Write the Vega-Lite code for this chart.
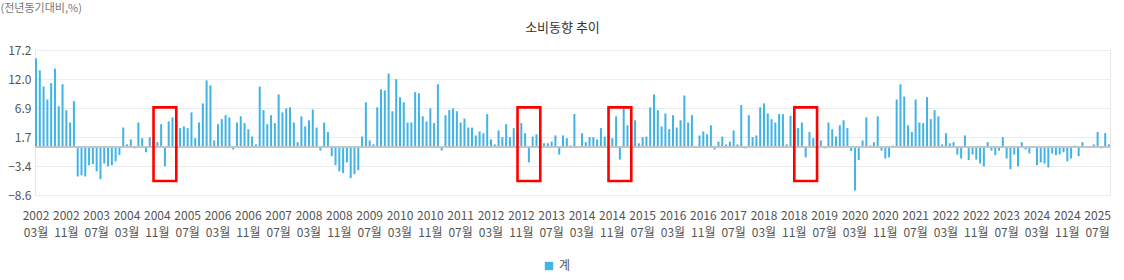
{
  "$schema": "https://vega.github.io/schema/vega-lite/v6.json",
  "width": 1075,
  "height": 145,
  "autosize": {"type": "none"},
  "padding": {"left": 35, "top": 50, "right": 14, "bottom": 85},
  "background": "white",
  "config": {
    "font": "Noto Sans CJK KR",
    "view": {"stroke": "#e6e6e6"},
    "axis": {"labelFont": "Noto Sans CJK KR", "titleFont": "Noto Sans CJK KR"},
    "axisY": {"labelOverlap": false}
  },
  "title": {"text": "소비동향 추이", "fontSize": 13, "fontWeight": "normal", "color": "#333333", "offset": 12, "anchor": "middle", "frame": "group", "dx": -10, "dy": 45},
  "datasets": {
    "cons": [
      {"m":"2002-03","v":15.7},{"m":"2002-04","v":13.6},{"m":"2002-05","v":10.7},{"m":"2002-06","v":8.4},{"m":"2002-07","v":11.3},{"m":"2002-08","v":13.9},{"m":"2002-09","v":7.2},{"m":"2002-10","v":11.1},{"m":"2002-11","v":6.5},{"m":"2002-12","v":4.3},
      {"m":"2003-01","v":8.1},{"m":"2003-02","v":-5.3},{"m":"2003-03","v":-5.1},{"m":"2003-04","v":-5.3},{"m":"2003-05","v":-3.3},{"m":"2003-06","v":-3.1},{"m":"2003-07","v":-4.4},{"m":"2003-08","v":-5.8},{"m":"2003-09","v":-3.0},{"m":"2003-10","v":-3.5},{"m":"2003-11","v":-3.3},{"m":"2003-12","v":-2.6},
      {"m":"2004-01","v":-1.5},{"m":"2004-02","v":3.4},{"m":"2004-03","v":0.4},{"m":"2004-04","v":1.3},{"m":"2004-05","v":-0.3},{"m":"2004-06","v":4.3},{"m":"2004-07","v":1.5},{"m":"2004-08","v":-1.0},{"m":"2004-09","v":1.7},{"m":"2004-10","v":1.5},{"m":"2004-11","v":0.8},{"m":"2004-12","v":4.0},
      {"m":"2005-01","v":-3.5},{"m":"2005-02","v":4.5},{"m":"2005-03","v":5.2},{"m":"2005-04","v":4.5},{"m":"2005-05","v":3.3},{"m":"2005-06","v":3.6},{"m":"2005-07","v":3.3},{"m":"2005-08","v":6.1},{"m":"2005-09","v":1.5},{"m":"2005-10","v":4.3},{"m":"2005-11","v":7.7},{"m":"2005-12","v":11.8},
      {"m":"2006-01","v":10.9},{"m":"2006-02","v":1.1},{"m":"2006-03","v":4.0},{"m":"2006-04","v":4.9},{"m":"2006-05","v":5.6},{"m":"2006-06","v":5.2},{"m":"2006-07","v":-0.5},{"m":"2006-08","v":4.3},{"m":"2006-09","v":5.4},{"m":"2006-10","v":4.2},{"m":"2006-11","v":3.1},{"m":"2006-12","v":1.8},
      {"m":"2007-01","v":0.4},{"m":"2007-02","v":10.7},{"m":"2007-03","v":6.5},{"m":"2007-04","v":4.0},{"m":"2007-05","v":5.6},{"m":"2007-06","v":4.2},{"m":"2007-07","v":9.3},{"m":"2007-08","v":6.1},{"m":"2007-09","v":6.8},{"m":"2007-10","v":7.0},{"m":"2007-11","v":4.3},{"m":"2007-12","v":0.8},
      {"m":"2008-01","v":5.4},{"m":"2008-02","v":3.6},{"m":"2008-03","v":4.7},{"m":"2008-04","v":6.6},{"m":"2008-05","v":3.4},{"m":"2008-06","v":-0.7},{"m":"2008-07","v":4.3},{"m":"2008-08","v":2.6},{"m":"2008-09","v":-1.7},{"m":"2008-10","v":-3.3},{"m":"2008-11","v":-4.4},{"m":"2008-12","v":-4.7},
      {"m":"2009-01","v":-2.8},{"m":"2009-02","v":-5.6},{"m":"2009-03","v":-4.9},{"m":"2009-04","v":-4.2},{"m":"2009-05","v":1.8},{"m":"2009-06","v":7.9},{"m":"2009-07","v":1.1},{"m":"2009-08","v":0.4},{"m":"2009-09","v":7.0},{"m":"2009-10","v":10.2},{"m":"2009-11","v":10.0},{"m":"2009-12","v":13.0},
      {"m":"2010-01","v":6.3},{"m":"2010-02","v":12.0},{"m":"2010-03","v":8.8},{"m":"2010-04","v":7.9},{"m":"2010-05","v":4.3},{"m":"2010-06","v":4.3},{"m":"2010-07","v":9.7},{"m":"2010-08","v":9.5},{"m":"2010-09","v":5.4},{"m":"2010-10","v":4.5},{"m":"2010-11","v":6.8},{"m":"2010-12","v":4.2},
      {"m":"2011-01","v":11.1},{"m":"2011-02","v":-0.7},{"m":"2011-03","v":5.6},{"m":"2011-04","v":6.5},{"m":"2011-05","v":6.8},{"m":"2011-06","v":6.3},{"m":"2011-07","v":4.3},{"m":"2011-08","v":5.0},{"m":"2011-09","v":3.4},{"m":"2011-10","v":3.4},{"m":"2011-11","v":2.0},{"m":"2011-12","v":2.7},
      {"m":"2012-01","v":2.4},{"m":"2012-02","v":5.8},{"m":"2012-03","v":1.3},{"m":"2012-04","v":0.4},{"m":"2012-05","v":2.9},{"m":"2012-06","v":1.7},{"m":"2012-07","v":4.0},{"m":"2012-08","v":1.7},{"m":"2012-09","v":3.3},{"m":"2012-10","v":2.5},{"m":"2012-11","v":4.2},{"m":"2012-12","v":2.4},
      {"m":"2013-01","v":-2.8},{"m":"2013-02","v":1.8},{"m":"2013-03","v":2.2},{"m":"2013-04","v":1.5},{"m":"2013-05","v":0.6},{"m":"2013-06","v":0.6},{"m":"2013-07","v":0.9},{"m":"2013-08","v":2.0},{"m":"2013-09","v":-1.4},{"m":"2013-10","v":2.0},{"m":"2013-11","v":1.5},{"m":"2013-12","v":0.2},
      {"m":"2014-01","v":5.8},{"m":"2014-02","v":0.1},{"m":"2014-03","v":2.4},{"m":"2014-04","v":0.8},{"m":"2014-05","v":1.7},{"m":"2014-06","v":1.7},{"m":"2014-07","v":1.3},{"m":"2014-08","v":3.3},{"m":"2014-09","v":1.8},{"m":"2014-10","v":0.2},{"m":"2014-11","v":1.5},{"m":"2014-12","v":5.4},
      {"m":"2015-01","v":-2.3},{"m":"2015-02","v":6.8},{"m":"2015-03","v":3.8},{"m":"2015-04","v":4.0},{"m":"2015-05","v":4.7},{"m":"2015-06","v":0.6},{"m":"2015-07","v":1.7},{"m":"2015-08","v":1.8},{"m":"2015-09","v":7.0},{"m":"2015-10","v":9.3},{"m":"2015-11","v":6.5},{"m":"2015-12","v":3.6},
      {"m":"2016-01","v":5.9},{"m":"2016-02","v":3.1},{"m":"2016-03","v":5.6},{"m":"2016-04","v":3.4},{"m":"2016-05","v":4.7},{"m":"2016-06","v":9.1},{"m":"2016-07","v":4.3},{"m":"2016-08","v":5.6},{"m":"2016-09","v":0.05},{"m":"2016-10","v":2.0},{"m":"2016-11","v":2.7},{"m":"2016-12","v":2.2},
      {"m":"2017-01","v":3.8},{"m":"2017-02","v":-0.5},{"m":"2017-03","v":0.9},{"m":"2017-04","v":1.8},{"m":"2017-05","v":0.4},{"m":"2017-06","v":0.9},{"m":"2017-07","v":2.9},{"m":"2017-08","v":0.4},{"m":"2017-09","v":7.4},{"m":"2017-10","v":-0.3},{"m":"2017-11","v":5.6},{"m":"2017-12","v":1.7},
      {"m":"2018-01","v":2.0},{"m":"2018-02","v":7.0},{"m":"2018-03","v":7.7},{"m":"2018-04","v":5.9},{"m":"2018-05","v":4.9},{"m":"2018-06","v":4.3},{"m":"2018-07","v":5.8},{"m":"2018-08","v":5.8},{"m":"2018-09","v":0.4},{"m":"2018-10","v":5.5},{"m":"2018-11","v":3.0},{"m":"2018-12","v":3.3},
      {"m":"2019-01","v":4.3},{"m":"2019-02","v":-1.9},{"m":"2019-03","v":2.6},{"m":"2019-04","v":1.5},{"m":"2019-05","v":1.0},{"m":"2019-06","v":1.1},{"m":"2019-07","v":-0.3},{"m":"2019-08","v":4.3},{"m":"2019-09","v":3.1},{"m":"2019-10","v":1.8},{"m":"2019-11","v":3.8},{"m":"2019-12","v":4.7},
      {"m":"2020-01","v":3.3},{"m":"2020-02","v":-0.8},{"m":"2020-03","v":-7.8},{"m":"2020-04","v":-2.4},{"m":"2020-05","v":1.1},{"m":"2020-06","v":5.2},{"m":"2020-07","v":0.2},{"m":"2020-08","v":0.8},{"m":"2020-09","v":5.4},{"m":"2020-10","v":-0.7},{"m":"2020-11","v":-2.1},{"m":"2020-12","v":-1.9},
      {"m":"2021-01","v":0.2},{"m":"2021-02","v":8.4},{"m":"2021-03","v":11.1},{"m":"2021-04","v":8.9},{"m":"2021-05","v":3.8},{"m":"2021-06","v":2.6},{"m":"2021-07","v":8.4},{"m":"2021-08","v":4.3},{"m":"2021-09","v":4.2},{"m":"2021-10","v":8.8},{"m":"2021-11","v":4.9},{"m":"2021-12","v":6.5},
      {"m":"2022-01","v":5.4},{"m":"2022-02","v":0.4},{"m":"2022-03","v":2.4},{"m":"2022-04","v":0.6},{"m":"2022-05","v":0.8},{"m":"2022-06","v":-1.4},{"m":"2022-07","v":-2.1},{"m":"2022-08","v":2.0},{"m":"2022-09","v":-2.4},{"m":"2022-10","v":-1.4},{"m":"2022-11","v":-2.3},{"m":"2022-12","v":-3.0},
      {"m":"2023-01","v":-3.5},{"m":"2023-02","v":0.8},{"m":"2023-03","v":-0.7},{"m":"2023-04","v":-1.5},{"m":"2023-05","v":-0.7},{"m":"2023-06","v":1.7},{"m":"2023-07","v":-2.1},{"m":"2023-08","v":-4.0},{"m":"2023-09","v":-1.4},{"m":"2023-10","v":-3.5},{"m":"2023-11","v":0.8},{"m":"2023-12","v":-0.5},
      {"m":"2024-01","v":-1.2},{"m":"2024-02","v":0.05},{"m":"2024-03","v":-3.3},{"m":"2024-04","v":-2.8},{"m":"2024-05","v":-3.0},{"m":"2024-06","v":-3.7},{"m":"2024-07","v":-1.2},{"m":"2024-08","v":-1.5},{"m":"2024-09","v":-1.4},{"m":"2024-10","v":-1.0},{"m":"2024-11","v":-2.6},{"m":"2024-12","v":-2.1},
      {"m":"2025-01","v":0.2},{"m":"2025-02","v":-1.7},{"m":"2025-03","v":0.8},{"m":"2025-04","v":0.05},{"m":"2025-05","v":0.1},{"m":"2025-06","v":0.4},{"m":"2025-07","v":2.6},{"m":"2025-08","v":-0.3},{"m":"2025-09","v":2.4},{"m":"2025-10","v":0.4}
    ],
    "boxes": [
      {"s":"2004-10","e":"2005-04"},
      {"s":"2012-10","e":"2013-04"},
      {"s":"2014-10","e":"2015-04"},
      {"s":"2018-11","e":"2019-05"}
    ]
  },
  "layer": [
    {
      "data": {"name": "cons"},
      "mark": {"type": "bar"},
      "encoding": {
        "x": {
          "field": "m", "type": "ordinal",
          "scale": {"paddingInner": 0.47, "paddingOuter": 0},
          "axis": {
            "title": null,
            "values": ["2002-03","2002-11","2003-07","2004-03","2004-11","2005-07","2006-03","2006-11","2007-07","2008-03","2008-11","2009-07","2010-03","2010-11","2011-07","2012-03","2012-11","2013-07","2014-03","2014-11","2015-07","2016-03","2016-11","2017-07","2018-03","2018-11","2019-07","2020-03","2020-11","2021-07","2022-03","2022-11","2023-07","2024-03","2024-11","2025-07"],
            "labelExpr": "[slice(datum.value,0,4), slice(datum.value,5,7) + '월']",
            "labelAngle": 0,
            "labelFontSize": 12,
            "labelColor": "#555555",
            "labelLineHeight": 17,
            "labelPadding": 15,
            "ticks": false,
            "domain": false,
            "grid": false,
            "labelOverlap": false
          }
        },
        "y": {
          "field": "v", "type": "quantitative",
          "scale": {"domain": [-8.6, 17.2], "nice": false, "zero": false},
          "axis": {
            "values": [-8.6, -3.44, 1.72, 6.88, 12.04, 17.2],
            "tickCount": 10,
            "format": ".1f",
            "title": "(전년동기대비,%)",
            "titleAngle": 0,
            "titleAlign": "left",
            "titleBaseline": "middle",
            "titleX": -35,
            "titleY": -42,
            "titleFontSize": 11,
            "titleFontWeight": "normal",
            "titleColor": "#777777",
            "labelFontSize": 12,
            "labelColor": "#555555",
            "labelPadding": 4,
            "labelOverlap": false,
            "ticks": false,
            "domain": false,
            "gridColor": "#ececec"
          }
        },
        "color": {
          "datum": "계",
          "type": "nominal",
          "scale": {"range": ["#41b4e6"]},
          "legend": {
            "title": null,
            "orient": "none",
            "legendX": 508,
            "legendY": 210,
            "symbolType": "square",
            "symbolSize": 70,
            "labelFontSize": 12,
            "labelColor": "#555555"
          }
        }
      }
    },
    {
      "data": {"name": "cons"},
      "mark": {"type": "rule", "color": "#c4c4c4", "strokeWidth": 1},
      "encoding": {"y": {"datum": 0, "type": "quantitative"}}
    },
    {
      "data": {"name": "boxes"},
      "mark": {"type": "rect", "filled": false, "stroke": "#ff0000", "strokeWidth": 2.6},
      "encoding": {
        "x": {"field": "s", "type": "ordinal"},
        "x2": {"field": "e"},
        "y": {"datum": 7.0, "type": "quantitative"},
        "y2": {"datum": -6.1}
      }
    }
  ]
}
